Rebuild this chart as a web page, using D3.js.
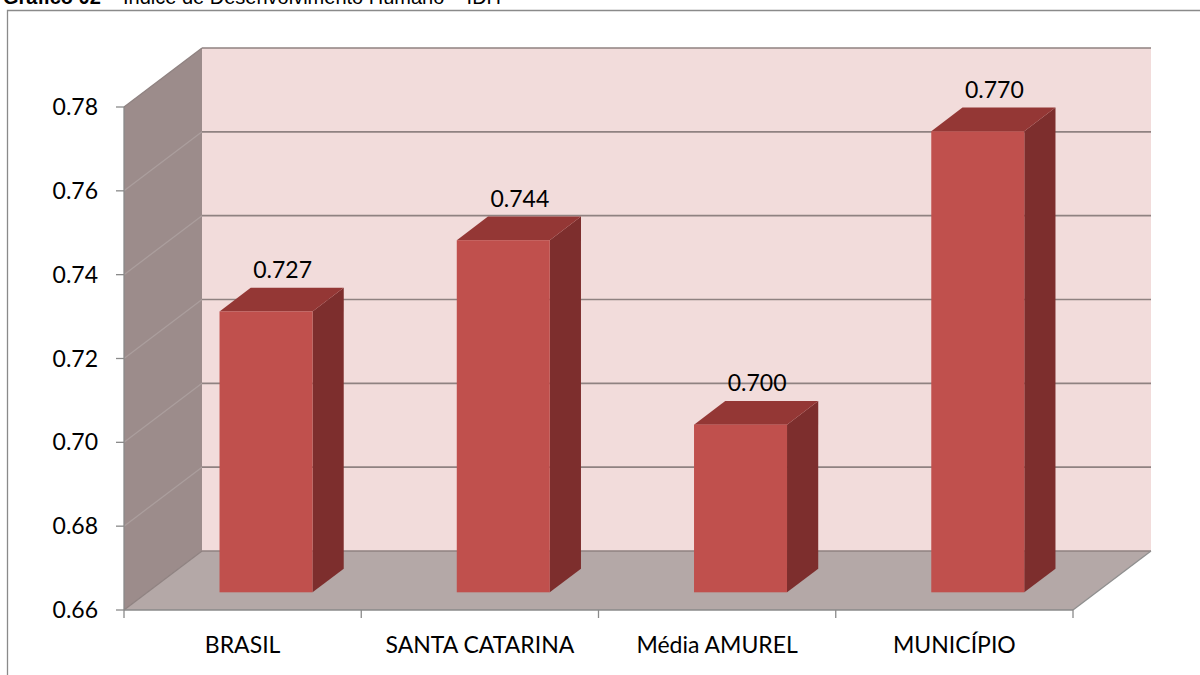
<!DOCTYPE html>
<html><head><meta charset="utf-8">
<script src="https://cdn.jsdelivr.net/npm/d3@7"></script>
<style>html,body{margin:0;padding:0;background:#fff;}svg{display:block;}</style>
</head><body><svg id="c" width="1200" height="675"></svg>
<script>
const categories = ["BRASIL", "SANTA CATARINA", "Média AMUREL", "MUNICÍPIO"];
const values = [0.727, 0.744, 0.700, 0.770];
const valueLabels = ["0.727", "0.744", "0.700", "0.770"];
const yTicks = [0.66, 0.68, 0.70, 0.72, 0.74, 0.76, 0.78];

const svg = d3.select("#c");
const font = "Lato, 'Open Sans', sans-serif";

// frame
svg.append("path").attr("d","M7.5,675 V10.5 H1200").attr("fill","none").attr("stroke","#8a8a8a").attr("stroke-width",1.3);
// title (cropped at top, as in the reference)
const t = svg.append("text").attr("x",3).attr("y",4).attr("font-family","'Liberation Sans', Arial, sans-serif").attr("font-size",20).attr("fill","#000");
t.append("tspan").attr("font-weight","bold").text("Gráfico 02");
t.append("tspan").text(" – Índice de Desenvolvimento Humano – IDH");

const x = d3.scaleBand().domain(categories).range([124, 1073]);
const y = d3.scaleLinear().domain([0.66, 0.78]).range([610, 107]);
const DX = 78, DY = -59;
const off = z => [DX*z, DY*z];
const y0 = y.domain()[0], y1 = y.domain()[1];
const xL = x.range()[0], xR = x.range()[1];

// back wall
svg.append("rect").attr("x", xL+DX).attr("y", y(y1)+DY).attr("width", xR-xL).attr("height", y(y0)-y(y1))
  .attr("fill","#f2dcdb");
// side wall
svg.append("path").attr("d", `M${xL},${y(y0)} L${xL},${y(y1)} L${xL+DX},${y(y1)+DY} L${xL+DX},${y(y0)+DY} Z`)
  .attr("fill","#9c8c8b");
// side wall grid
svg.append("g").selectAll("line").data(yTicks.slice(1,-1)).join("line")
  .attr("x1", xL).attr("y1", d=>y(d)).attr("x2", xL+DX).attr("y2", d=>y(d)+DY)
  .attr("stroke","#ab9e9d").attr("stroke-width",1.3);
// floor
svg.append("path").attr("d", `M${xL},${y(y0)} L${xR},${y(y0)} L${xR+DX},${y(y0)+DY} L${xL+DX},${y(y0)+DY} Z`)
  .attr("fill","#b4a8a7");
// back grid lines
svg.append("g").selectAll("line").data(yTicks).join("line")
  .attr("x1", xL+DX).attr("x2", xR+DX).attr("y1", d=>y(d)+DY).attr("y2", d=>y(d)+DY)
  .attr("stroke","#8f8281").attr("stroke-width",1.6);
// edges
svg.append("path").attr("d", `M${xL},${y(y1)} L${xL+DX},${y(y1)+DY}`).attr("stroke","#8f8281").attr("stroke-width",1.3);
svg.append("path").attr("d", `M${xL},${y(y0)} L${xL+DX},${y(y0)+DY}`).attr("stroke","#8f8281").attr("stroke-width",1.3);
svg.append("path").attr("d", `M${xR},${y(y0)} L${xR+DX},${y(y0)+DY}`).attr("stroke","#8f8f8f").attr("stroke-width",1.3);

// bars
const bw = x.bandwidth()*0.392;
const zF = 0.3, zB = 0.7;
const bars = svg.append("g");
categories.forEach((c,i) => {
  const v = values[i];
  const cx = x(c) + x.bandwidth()/2;
  const [fx, fy] = off(zF), [bx, by] = off(zB);
  const l = cx - bw/2, r = cx + bw/2;
  const yt = y(v), yb = y(y0);
  bars.append("path").attr("d", `M${r+fx},${yt+fy} L${r+bx},${yt+by} L${r+bx},${yb+by} L${r+fx},${yb+fy} Z`).attr("fill","#7d2e2d");
  bars.append("path").attr("d", `M${l+fx},${yt+fy} L${l+bx},${yt+by} L${r+bx},${yt+by} L${r+fx},${yt+fy} Z`).attr("fill","#943735");
  bars.append("rect").attr("x", l+fx).attr("y", yt+fy).attr("width", bw).attr("height", yb-yt).attr("fill","#c0504d");
  bars.append("text").attr("x", cx + (fx+bx)/2 + 1).attr("y", yt+by-10).attr("text-anchor","middle")
    .attr("font-family",font).attr("font-size",23).attr("fill","#000").text(valueLabels[i]);
});

// axes
const axisColor = "#8a8a8a";
svg.append("line").attr("x1",xL).attr("x2",xL).attr("y1",y(y1)).attr("y2",y(y0)).attr("stroke",axisColor).attr("stroke-width",1.3);
svg.append("line").attr("x1",xL).attr("x2",xR).attr("y1",y(y0)).attr("y2",y(y0)).attr("stroke",axisColor).attr("stroke-width",1.3);
svg.append("g").selectAll("line").data(yTicks).join("line")
  .attr("x1", xL-8).attr("x2", xL).attr("y1", d=>y(d)).attr("y2", d=>y(d)).attr("stroke",axisColor).attr("stroke-width",1.3);
svg.append("g").selectAll("text").data(yTicks).join("text")
  .attr("x", 98).attr("y", d=>y(d)+8).attr("text-anchor","end")
  .attr("font-family",font).attr("font-size",23).attr("fill","#000").text(d=>d3.format(".2f")(d));
const bounds = categories.map(c=>x(c)).concat([xR]);
svg.append("g").selectAll("line").data(bounds).join("line")
  .attr("x1", d=>d).attr("x2", d=>d).attr("y1", y(y0)).attr("y2", y(y0)+8).attr("stroke",axisColor).attr("stroke-width",1.3);
svg.append("g").selectAll("text").data(categories).join("text")
  .attr("x", d=>x(d)+x.bandwidth()/2).attr("y", 653).attr("text-anchor","middle")
  .attr("font-family",font).attr("font-size",23).attr("fill","#000").text(d=>d);
</script></body></html>
